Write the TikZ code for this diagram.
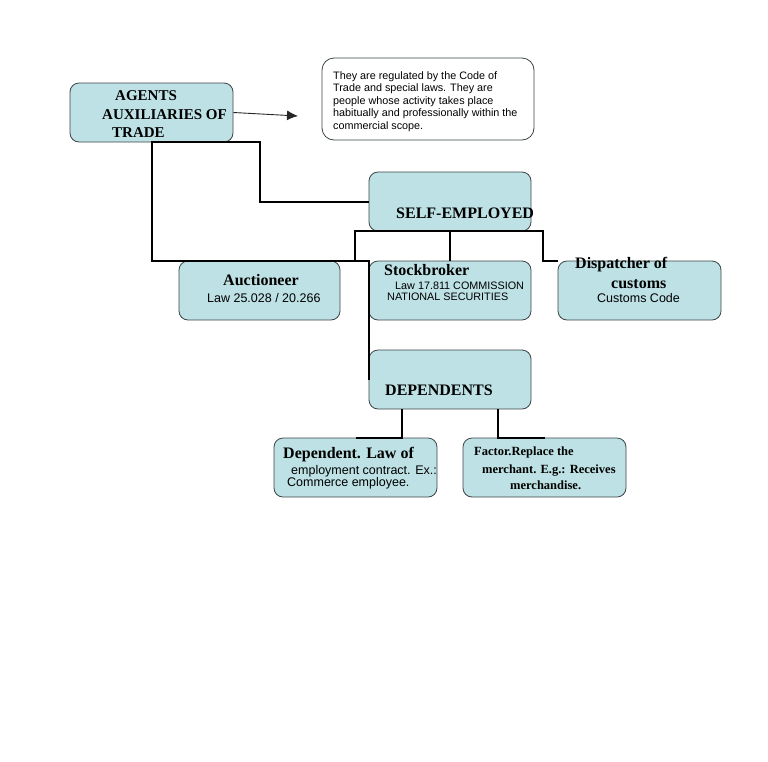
\documentclass[tikz,border=0pt]{standalone}
\usepackage{fontspec}
\setmainfont{Liberation Serif}
\setsansfont{Liberation Sans}
\usetikzlibrary{arrows.meta,calc}
\definecolor{boxfill}{HTML}{BDE1E4}
\definecolor{boxline}{HTML}{3C4446}
\tikzset{>=Latex,
  box/.style={draw=boxline,fill=boxfill,line width=.8pt,rounded corners=9pt,
    minimum width=163pt,minimum height=59pt,inner sep=0pt},
  notebox/.style={box,fill=white,minimum width=212pt,minimum height=82pt,rounded corners=12pt},
  link/.style={draw=black,line width=2pt},
  pointer/.style={->,draw=black!85,line width=.9pt,
    >={Latex[length=11pt,width=10pt]}},
  head/.style={font=\bfseries\fontsize{16}{18}\selectfont,inner sep=0pt,anchor=base west},
  headsm/.style={head,font=\bfseries\fontsize{12.5}{14}\selectfont},
  txt/.style={font=\sffamily\fontsize{12.5}{14}\selectfont,inner sep=0pt,anchor=base west},
  txtsm/.style={txt,font=\sffamily\fontsize{10.8}{12}\selectfont}}

\begin{document}
\begin{tikzpicture}[x=1pt,y=-1pt]
\useasboundingbox (0,0) rectangle (768,761);
\node[box] (agents) at (151.5,112.5) {};
\node[notebox] (note) at (428,99) {};
\node[box,minimum width=162pt] (self) at (450,201.5) {};
\node[box,minimum width=161pt] (auct) at (259.5,290.5) {};
\node[box,minimum width=162pt] (stock) at (450,290.5) {};
\node[box] (disp) at (639.5,290.5) {};
\node[box,minimum width=162pt] (dep) at (450,379.5) {};
\node[box] (law) at (355.5,467.5) {};
\node[box] (factor) at (544.5,467.5) {};
\coordinate (notetip) at (298,116);
\draw[pointer] (agents.east) -- (notetip);
\draw[link] (self.west) -| ([xshift=27pt]agents.south east) -| ([xshift=-27pt]auct.north west) -| (dep.west);
\draw[link] ([xshift=-14pt]stock.north west) |- (self.south) -| ([xshift=12pt]stock.north east) -- (disp.north west);
\draw[link] (self.south) -- (stock.north);
\draw[link] ([xshift=-48pt]dep.south) |- (law.north);
\draw[link] ([xshift=48pt]dep.south) |- (factor.north);
\node[head,font=\bfseries\fontsize{15}{17}\selectfont] (agentsA) at (115,100) {AGENTS};
\node[head,font=\bfseries\fontsize{15}{17}\selectfont] (agentsB) at (102,119) {AUXILIARIES OF};
\node[head,font=\bfseries\fontsize{15}{17}\selectfont] (agentsC) at (112,137) {TRADE};
\foreach \t [count=\i] in {They are regulated by the Code of,Trade and special laws. They are,
  people whose activity takes place,habitually and professionally within the,commercial scope.}
  \node[txtsm] (note\i) at (333,{66.5+12.5*\i}) {\t};
\node[head] (selfT) at (396,218) {SELF-EMPLOYED};
\node[head] (auctT) at (223,285) {Auctioneer};
\node[txt] (auctL) at (207,302) {Law 25.028 / 20.266};
\node[head] (stockT) at (384,275) {Stockbroker};
\node[txtsm] (stockL) at (395,289) {Law 17.811 COMMISSION};
\node[txtsm] (stockN) at (387,300) {NATIONAL SECURITIES};
\node[head] (dispT) at (575,268) {Dispatcher of};
\node[head] (dispU) at (611,288) {customs};
\node[txt] (dispL) at (597,302) {Customs Code};
\node[head] (depT) at (385,395) {DEPENDENTS};
\node[head] (lawT) at (283,458) {Dependent. Law of};
\node[txt] (lawA) at (291,474) {employment contract. Ex.:};
\node[txt] (lawB) at (287,486) {Commerce employee.};
\node[headsm] (factorA) at (474,455) {Factor.Replace the};
\node[headsm] (factorB) at (482,473) {merchant. E.g.: Receives};
\node[headsm] (factorC) at (510,489) {merchandise.};
\end{tikzpicture}
\end{document}
